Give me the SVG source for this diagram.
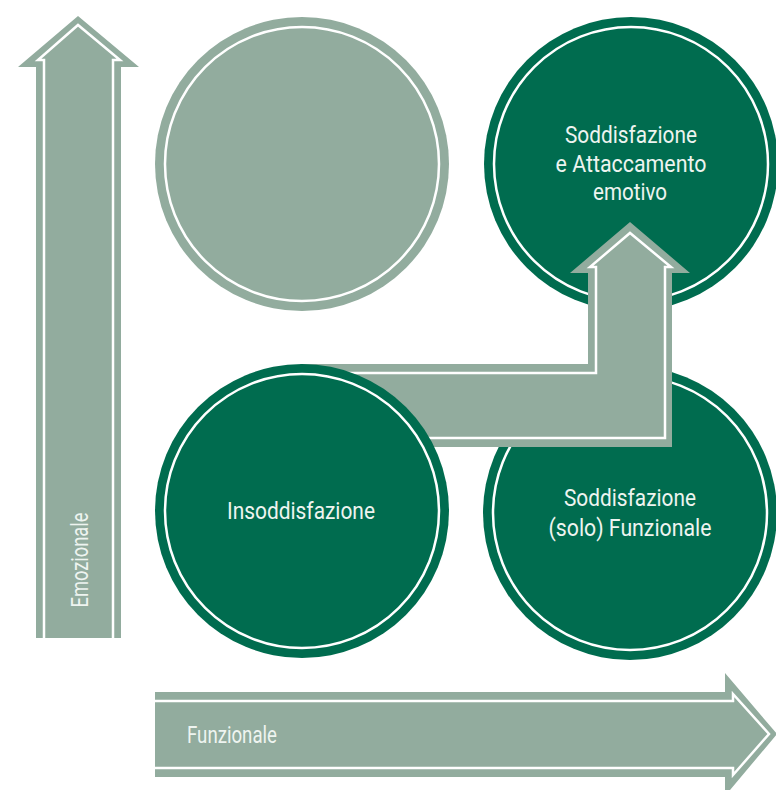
<svg xmlns="http://www.w3.org/2000/svg" width="776" height="790" viewBox="0 0 776 790">
<style>
.lg{fill:#92AC9E}
.dg{fill:#006C4F}
.ring{fill:none;stroke:#FFFFFF;stroke-width:2.5}
.wl{fill:none;stroke:#FFFFFF;stroke-width:2.5;stroke-linejoin:miter}
.t{font-family:Roboto,"Liberation Sans",sans-serif;font-size:23.5px;fill:#EEF4F0;text-anchor:middle}
</style>
<rect width="776" height="790" fill="#FFFFFF"/>
<g id="axis-emozionale">
<polygon class="lg" points="36,638 36,67 18,67 78,16 139,67 121,67 121,638"/>
<polyline class="wl" points="44,638 44,60 38,60 78,25 120,60 113,60 113,638"/>
<text class="t" transform="translate(88,560) rotate(-90)" textLength="95" lengthAdjust="spacingAndGlyphs">Emozionale</text>
</g>
<g id="axis-funzionale">
<polygon class="lg" points="155,692 725,692 725,673 777,734 725,796 725,777 155,777"/>
<polyline class="wl" points="155,701 733,701 733,694 769,734 733,775 733,768 155,768"/>
<text class="t" x="232" y="743" textLength="90" lengthAdjust="spacingAndGlyphs">Funzionale</text>
</g>
<g id="node-empty">
<circle class="lg" cx="302" cy="164" r="147"/>
<circle class="ring" cx="302" cy="164" r="137"/>
</g>
<g id="node-attaccamento">
<circle class="dg" cx="631" cy="164" r="147"/>
<circle class="ring" cx="631" cy="164" r="137"/>
<text class="t" x="631" y="143" textLength="132" lengthAdjust="spacingAndGlyphs">Soddisfazione</text>
<text class="t" x="631" y="172" textLength="151" lengthAdjust="spacingAndGlyphs">e Attaccamento</text>
<text class="t" x="630" y="200" textLength="74" lengthAdjust="spacingAndGlyphs">emotivo</text>
</g>
<g id="node-funzionale">
<circle class="dg" cx="630" cy="513" r="147"/>
<circle class="ring" cx="630" cy="513" r="137"/>
<text class="t" x="630" y="506" textLength="132" lengthAdjust="spacingAndGlyphs">Soddisfazione</text>
<text class="t" x="630" y="536" textLength="163" lengthAdjust="spacingAndGlyphs">(solo) Funzionale</text>
</g>
<g id="connectors">
<polygon class="lg" points="300,364 588,364 588,273 570,273 630,222 690,273 672,273 672,447 300,447"/>
<polyline class="wl" points="300,373 596,373 596,267 590,267 630,233 671,267 665,267 665,438 300,438"/>
</g>
<g id="node-insoddisfazione">
<circle class="dg" cx="302" cy="511" r="147"/>
<circle class="ring" cx="302" cy="511" r="137"/>
<text class="t" x="301" y="519" textLength="148" lengthAdjust="spacingAndGlyphs">Insoddisfazione</text>
</g>
</svg>
